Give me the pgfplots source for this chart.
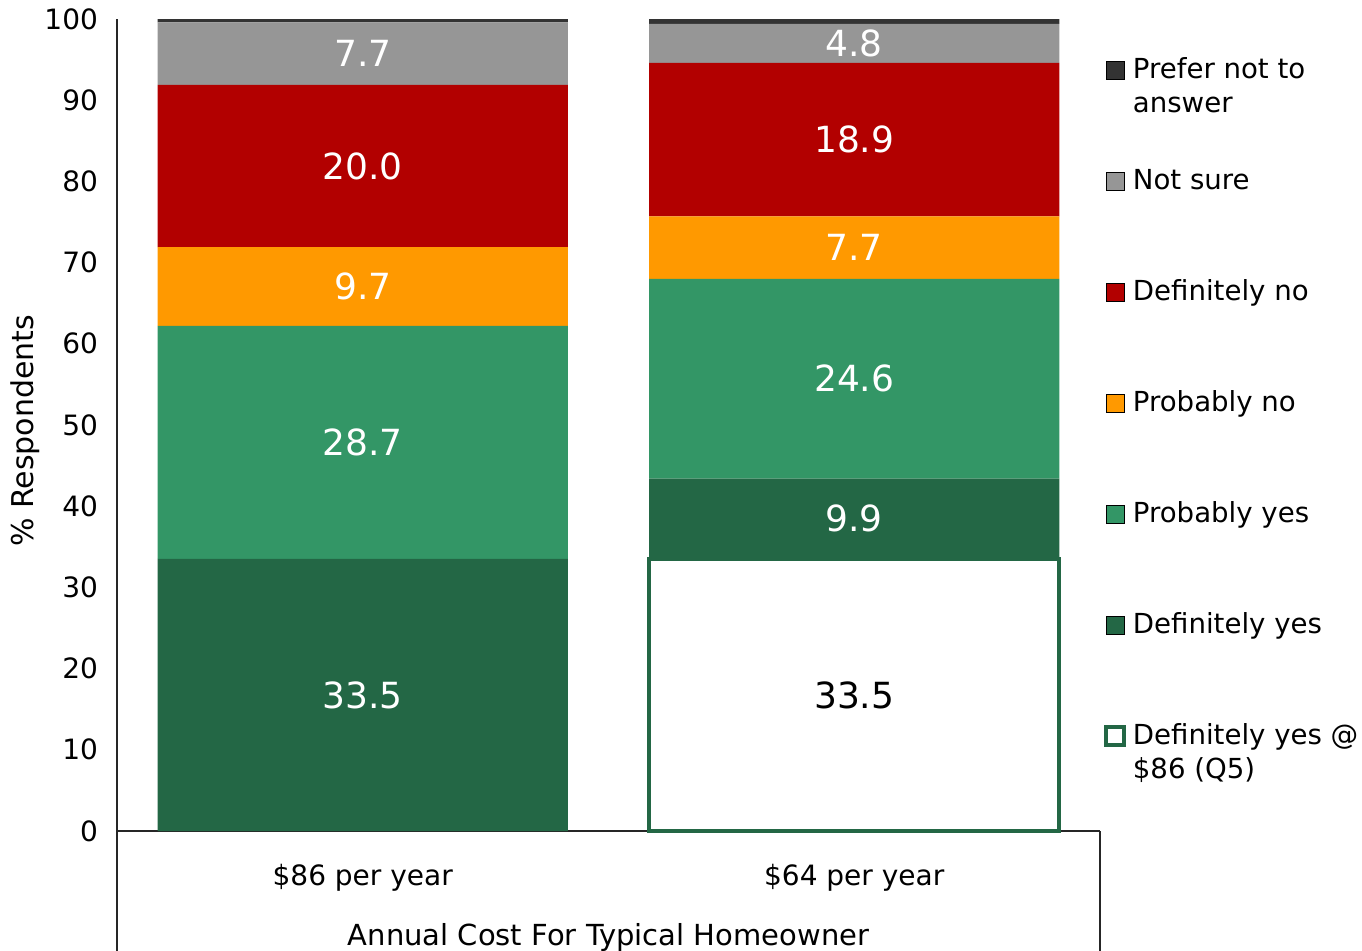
\documentclass[border=0pt]{standalone}
\usepackage{pgfplots}
\pgfplotsset{compat=1.18}
\usepackage{fontspec}
\setmainfont{DejaVu Sans}
\definecolor{cPNA}{RGB}{51,51,51}
\definecolor{cNS}{RGB}{150,150,150}
\definecolor{cDN}{RGB}{178,0,0}
\definecolor{cPN}{RGB}{255,153,0}
\definecolor{cPY}{RGB}{51,150,102}
\definecolor{cDY}{RGB}{35,103,69}
\begin{document}
\begin{tikzpicture}
\useasboundingbox (-58.5pt,-59.5pt) rectangle (622.5pt,415.5pt);
\begin{axis}[
  at={(0pt,0pt)}, anchor=south west,
  scale only axis, width=491.5pt, height=406pt,
  ybar stacked, bar width=0.835,
  xmin=-0.5, xmax=1.5, ymin=0, ymax=100,
  axis x line*=bottom, axis y line*=left,
  axis line style={-, line width=0.6pt, black!85},
  xtick={0,1}, xticklabels={\$86 per year,\$64 per year},
  ytick={0,10,...,100},
  major tick length=0pt,
  /pgf/number format/assume math mode=true,
  yticklabel style={font=\fontsize{14}{16}\selectfont, anchor=east, xshift=-6pt},
  xticklabel style={font=\fontsize{14}{16}\selectfont, anchor=base, yshift=-27pt},
  xlabel={Annual Cost For Typical Homeowner},
  ylabel={\% Respondents},
  every axis x label/.style={at={(axis description cs:0.5,-0.1404)}, anchor=base, font=\fontsize{14.5}{17}\selectfont},
  every axis y label/.style={at={(axis description cs:-0.0936,0.4926)}, anchor=center, rotate=90, font=\fontsize{15}{18}\selectfont},
  clip=false,
  point meta=explicit symbolic,
  nodes near coords align={anchor=center},
  every node near coord/.append style={anchor=center, font=\fontsize{18}{20}\selectfont, text=white},
  reverse legend,
  legend image code/.code={\draw[#1] (0pt,0pt) rectangle (9pt,9pt);},
  legend cell align=left,
  legend style={at={(axis description cs:1.004,0.9557)}, anchor=north west, draw=none, fill=none, inner sep=0pt, outer sep=0pt, row sep=38.5pt, column sep=3.5pt, cells={anchor=base west}, nodes={inner sep=0pt, text height=12pt, text depth=5pt}, font=\fontsize{13.8}{17}\selectfont},
]
\addplot[fill=white, draw=cDY, line width=2pt, nodes near coords, every node near coord/.append style={text=black}] coordinates {(0,0) [ ] (1,33.5) [33.5]};
\addlegendentry{\parbox[t]{5cm}{Definitely yes @\newline\$86 (Q5)}}
\addplot[fill=cDY, draw=none, nodes near coords] coordinates {(0,33.5) [33.5] (1,9.9) [9.9]};
\addlegendentry{Definitely yes}
\addplot[fill=cPY, draw=none, nodes near coords] coordinates {(0,28.7) [28.7] (1,24.6) [24.6]};
\addlegendentry{Probably yes}
\addplot[fill=cPN, draw=none, nodes near coords] coordinates {(0,9.7) [9.7] (1,7.7) [7.7]};
\addlegendentry{Probably no}
\addplot[fill=cDN, draw=none, nodes near coords] coordinates {(0,20.0) [20.0] (1,18.9) [18.9]};
\addlegendentry{Definitely no}
\addplot[fill=cNS, draw=none, nodes near coords] coordinates {(0,7.7) [7.7] (1,4.8) [4.8]};
\addlegendentry{Not sure}
\addplot[fill=cPNA, draw=none] coordinates {(0,0.4) [x] (1,0.6) [x]};
\addlegendentry{\parbox[t]{5cm}{Prefer not to\newline answer}}
\draw[black!85, line width=0.6pt] (rel axis cs:0,0) -- ++(0pt,-62pt);
\draw[black!85, line width=0.6pt] (rel axis cs:1,0) -- ++(0pt,-62pt);
\end{axis}
\end{tikzpicture}
\end{document}
